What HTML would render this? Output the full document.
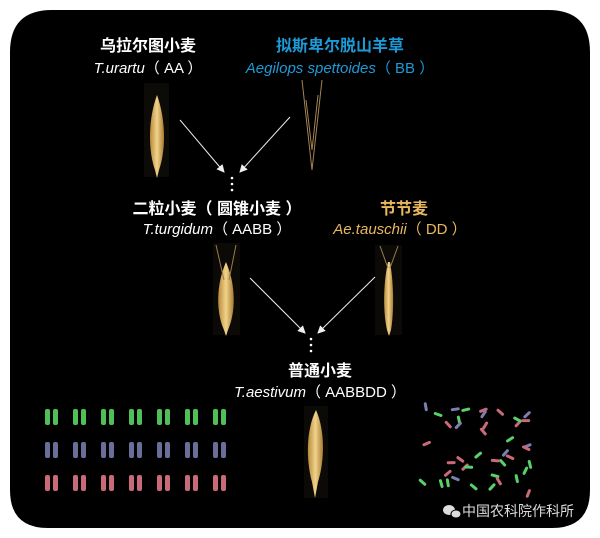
<!DOCTYPE html>
<html><head><meta charset="utf-8">
<style>
html,body{margin:0;padding:0;background:#fff;}
body{width:600px;height:538px;overflow:hidden;}
svg{display:block}
.cn{font-family:"Liberation Sans","Noto Sans CJK SC",sans-serif;font-weight:bold;font-size:16px;}
.la{font-family:"Liberation Sans","Noto Sans CJK SC",sans-serif;font-size:15px;}
</style></head><body>
<svg id="s" width="600" height="538" viewBox="0 0 600 538" xmlns="http://www.w3.org/2000/svg">
<defs>
<linearGradient id="wg" x1="0" x2="1"><stop offset="0" stop-color="#b98a3c"/><stop offset="0.5" stop-color="#f0d38a"/><stop offset="1" stop-color="#a87a32"/></linearGradient>
<marker id="ah" markerWidth="8" markerHeight="8" refX="7" refY="4" orient="auto" markerUnits="userSpaceOnUse"><path d="M0,0 L8,4 L0,8 Z" fill="#eee"/></marker>
</defs>
<path d="M52,10 H548 Q590,10 590,52 V490 Q590,528 552,528 H48 Q10,528 10,490 V52 Q10,10 52,10 Z" fill="#000"/>
<g text-anchor="middle">
<text class="cn" x="148" y="51" fill="#fff">乌拉尔图小麦</text>
<text class="la" x="148" y="73" fill="#fff"><tspan font-style="italic">T.urartu</tspan>（ AA ）</text>
<text class="cn" x="340" y="51" fill="#1d9ad8">拟斯卑尔脱山羊草</text>
<text class="la" x="340" y="73" fill="#1d9ad8"><tspan font-style="italic">Aegilops spettoides</tspan>（ BB ）</text>
<text class="cn" x="217" y="214" fill="#fff">二粒小麦（ 圆锥小麦 ）</text>
<text class="la" x="217" y="234" fill="#fff"><tspan font-style="italic">T.turgidum</tspan>（ AABB ）</text>
<text class="cn" x="404" y="214" fill="#e9b860">节节麦</text>
<text class="la" x="400" y="234" fill="#e9b860"><tspan font-style="italic">Ae.tauschii</tspan>（ DD ）</text>
<text class="cn" x="320" y="376" fill="#fff">普通小麦</text>
<text class="la" x="320" y="397" fill="#fff"><tspan font-style="italic">T.aestivum</tspan>（ AABBDD ）</text>
</g>
<rect x="144" y="83" width="25" height="94" fill="#0d0b08"/>
<path d="M157,95 C148,120 148,150 155,170 L157,178 L159,170 C166,150 166,120 157,95Z" fill="url(#wg)"/>
<path d="M302,80 L312,170 L322,80 M306,100 L312,150 L318,95" stroke="#a78550" stroke-width="1" fill="none"/>
<rect x="213" y="243" width="27" height="92" fill="#0c0a07"/>
<path d="M226,262 C216,285 216,312 224,330 L226,336 L228,330 C236,312 236,285 226,262Z" fill="url(#wg)"/>
<path d="M216,245 L224,280 M236,245 L229,280" stroke="#9a7b48" stroke-width="1"/>
<rect x="375" y="245" width="27" height="90" fill="#0c0a07"/>
<path d="M388,262 C383,285 383,312 387,330 L389,336 L391,330 C394,312 394,285 390,262Z" fill="url(#wg)"/>
<path d="M380,246 L388,268 M398,246 L390,268" stroke="#9a7b48" stroke-width="1"/>
<rect x="304" y="406" width="24" height="92" fill="#0b0a07"/>
<path d="M316,410 C306,430 306,460 312,482 L315,498 L318,482 C325,460 325,430 316,410Z" fill="url(#wg)"/>
<g stroke="#eee" stroke-width="1" marker-end="url(#ah)">
<line x1="180" y1="120" x2="224" y2="172"/>
<line x1="290" y1="117" x2="240" y2="172"/>
<line x1="250" y1="278" x2="305" y2="333"/>
<line x1="375" y1="277" x2="318" y2="333"/>
</g>
<g fill="#fff">
<circle cx="232" cy="178" r="1.3"/><circle cx="232" cy="184" r="1.3"/><circle cx="232" cy="190" r="1.3"/>
<circle cx="311" cy="339" r="1.3"/><circle cx="311" cy="345" r="1.3"/><circle cx="311" cy="351" r="1.3"/>
</g>
<g id="kar"></g>
<g id="spr"></g>
<text x="462" y="516" font-family="Liberation Sans,'Noto Sans CJK SC',sans-serif" font-size="14" fill="#ddd">中国农科院作科所</text>
<g fill="#ddd"><ellipse cx="449" cy="510" rx="6" ry="5"/><ellipse cx="456" cy="514" rx="5" ry="4" stroke="#000" stroke-width="1"/></g>
</svg>
<script>
var k=document.getElementById('kar'),h='';
var cols=['#4fbf5a','#6a6f9a','#c86a78'];
for(var r=0;r<3;r++)for(var c=0;c<7;c++){var x=45+c*28,y=417+r*33-8;
h+='<rect x="'+x+'" y="'+y+'" width="5" height="16" rx="2" fill="'+cols[r]+'"/>';
h+='<rect x="'+(x+8)+'" y="'+y+'" width="5" height="16" rx="2" fill="'+cols[r]+'"/>';}
k.innerHTML=h;
var s=document.getElementById('spr'),g='',seed=3;
function rnd(){seed=(seed*9301+49297)%233280;return seed/233280;}
var sc=['#5ad06a','#c86a78','#7a80b0','#5ad06a','#c86a78'];
for(var i=0;i<42;i++){var x=425+rnd()*110,y=405+rnd()*88,a=rnd()*180;
g+='<rect x="'+x+'" y="'+y+'" width="3" height="9" rx="1.5" fill="'+sc[i%5]+'" transform="rotate('+a+' '+x+' '+y+')"/>';}
s.innerHTML=g;
</script>
</body></html>
